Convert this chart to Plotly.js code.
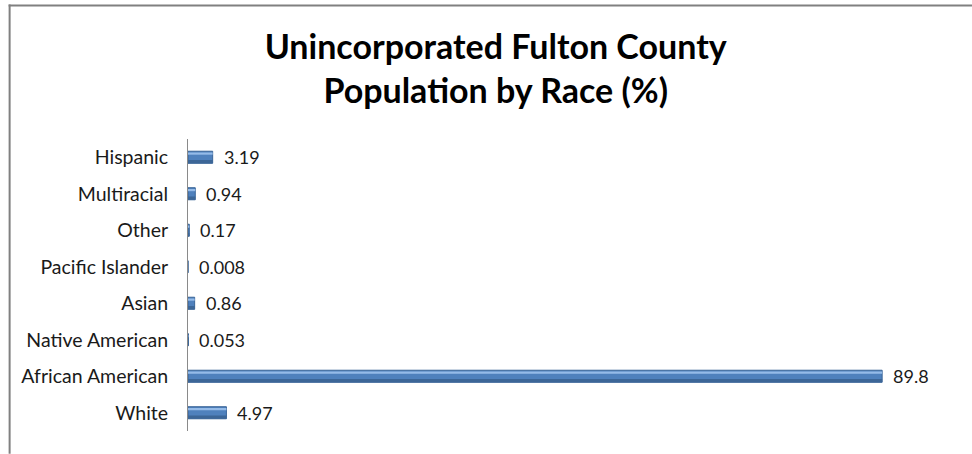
<!DOCTYPE html>
<html>
<head>
<meta charset="utf-8">
<script src="https://cdn.plot.ly/plotly-3.0.1.min.js"></script>
<style>
html,body{margin:0;padding:0;background:#fff;}
#chart{width:972px;height:454px;}
</style>
</head>
<body>
<div id="chart"></div>
<script>
// Data (bottom to top as drawn)
const categories = ["White", "African American", "Native American", "Asian", "Pacific Islander", "Other", "Multiracial", "Hispanic"];
const values = [4.97, 89.8, 0.053, 0.86, 0.008, 0.17, 0.94, 3.19];
const valueLabels = ["4.97", "89.8", "0.053", "0.86", "0.008", "0.17", "0.94", "3.19"];
const chartTitle = "Unincorporated Fulton County<br>Population by Race (%)";

const W = 972, H = 454;
const M = {l: 187.5, r: 11, t: 138.7, b: 22.7};
const pw = W - M.l - M.r, ph = H - M.t - M.b;
const px = v => (v - M.l) / pw;
const py = v => (H - M.b - v) / ph;

const catFont = {family: "Lato, 'Open Sans', sans-serif", size: 19.5, color: "#1a1a1a"};
const valFont = {family: "Lato, 'Open Sans', sans-serif", size: 18, color: "#1a1a1a"};

const main = {
  type: "bar", orientation: "h",
  x: values, y: categories,
  width: 0.33, offset: -0.165,
  marker: {color: "#4F81BD", line: {color: "#3A6598", width: 1}},
  hoverinfo: "skip", showlegend: false
};
const shade = {
  type: "bar", orientation: "h",
  x: values, y: categories,
  width: 0.09, offset: -0.165,
  marker: {color: "#3C6697", line: {width: 0}},
  hoverinfo: "skip", showlegend: false
};
const hilite = {
  type: "bar", orientation: "h",
  x: values, y: categories,
  width: 0.06, offset: 0.07,
  marker: {color: "#95BBE8", line: {width: 0}},
  hoverinfo: "skip", showlegend: false
};

const annotations = values.map((v, i) => ({
  x: v, y: categories[i], xref: "x", yref: "y",
  text: valueLabels[i], showarrow: false,
  xanchor: "left", yanchor: "middle", xshift: 9,
  font: valFont
}));

const layout = {
  width: W, height: H,
  margin: M,
  paper_bgcolor: "#ffffff", plot_bgcolor: "#ffffff",
  barmode: "overlay",
  title: {
    text: chartTitle,
    font: {family: "Lato, 'Open Sans', sans-serif", size: 34, color: "#000", weight: "bold"},
    x: 0.51, xref: "container", xanchor: "center",
    y: 0.87, yref: "container", yanchor: "top"
  },
  xaxis: {range: [0, 100], visible: false, fixedrange: true},
  yaxis: {
    type: "category", showline: true, linecolor: "#8a8a8a", linewidth: 1,
    showgrid: false, zeroline: false, ticks: "", ticklabelstandoff: 15,
    tickfont: catFont, fixedrange: true
  },
  annotations: annotations,
  shapes: [
    {type: "line", xref: "paper", yref: "paper", x0: px(8), x1: px(972), y0: py(5), y1: py(5), line: {color: "#808080", width: 2}, layer: "above"},
    {type: "line", xref: "paper", yref: "paper", x0: px(9), x1: px(9), y0: py(4), y1: py(454), line: {color: "#808080", width: 2}, layer: "above"}
  ],
  showlegend: false
};

Plotly.newPlot("chart", [main, shade, hilite], layout, {displayModeBar: false, staticPlot: true});
</script>
</body>
</html>
